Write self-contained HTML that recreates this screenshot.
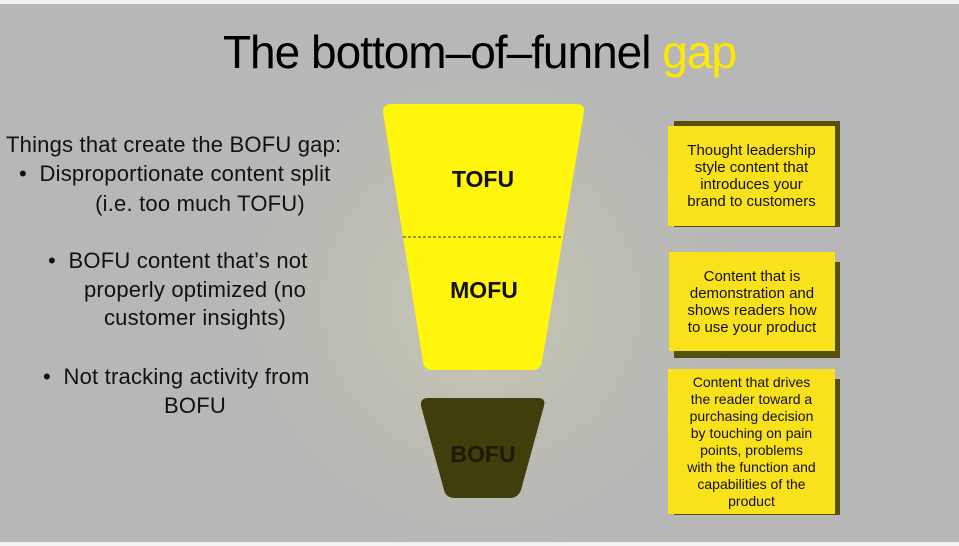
<!DOCTYPE html>
<html><head><meta charset="utf-8"><style>
*{margin:0;padding:0;box-sizing:border-box}
body{width:959px;height:546px;background:#f2f2f2;position:relative;overflow:hidden;font-family:"Liberation Sans",sans-serif}
#bg{position:absolute;left:0;top:4px;width:959px;height:538px;background:radial-gradient(circle at 480px 300px,#c6c6b4 0px,#bdbdb3 120px,#b7b7b7 260px)}
.t{position:absolute;font-size:22px;letter-spacing:0.2px;color:#111;white-space:nowrap;line-height:24px}
.c{text-align:center}
.box{position:absolute;background:#f9e11b;font-size:15px;line-height:17px;text-align:center;color:#111;display:flex;align-items:center;justify-content:center;white-space:nowrap}
.sh{position:absolute;background:#55500c}
</style></head><body>
<div id="bg"></div>
<div style="position:absolute;left:0;top:24px;width:959px;text-align:center;font-size:46px;letter-spacing:-1px;color:#000;line-height:56px">The bottom–of–funnel <span style="color:#ffe800">gap</span></div>

<div class="t" style="left:6px;top:133px">Things that create the BOFU gap:</div>
<div class="t" style="left:19px;top:162px">•&nbsp; Disproportionate content split</div>
<div class="t c" style="left:50px;width:300px;top:192px">(i.e. too much TOFU)</div>
<div class="t" style="left:48px;top:249px">•&nbsp; BOFU content that’s not</div>
<div class="t c" style="left:45px;width:300px;top:278px">properly optimized (no</div>
<div class="t c" style="left:45px;width:300px;top:306px">customer insights)</div>
<div class="t" style="left:43px;top:365px">•&nbsp; Not tracking activity from</div>
<div class="t c" style="left:45px;width:300px;top:394px">BOFU</div>

<svg style="position:absolute;left:0;top:0" width="959" height="546">
<path d="M392 104 L576 104 Q585 104 584 112 L542 362 Q540 370 532 370 L432 370 Q424 370 423 362 L383 112 Q383 104 392 104 Z" fill="#fff60c"/>
<line x1="403" y1="237" x2="562" y2="237" stroke="#333" stroke-width="1" stroke-dasharray="3,2"/>
<path d="M428 398 L538 398 Q546 398 544 406 L521 490 Q518 498 510 498 L455 498 Q446 498 444 490 L421 406 Q420 398 428 398 Z" fill="#403e0c"/>
<text x="483" y="187" text-anchor="middle" font-family="Liberation Sans" font-weight="bold" font-size="23" fill="#111">TOFU</text>
<text x="484" y="298" text-anchor="middle" font-family="Liberation Sans" font-weight="bold" font-size="23" fill="#111">MOFU</text>
<text x="483" y="462" text-anchor="middle" font-family="Liberation Sans" font-weight="bold" font-size="23" fill="#1c1b05">BOFU</text>
</svg>

<div class="sh" style="left:674px;top:121px;width:166px;height:106px"></div>
<div class="box" style="left:668px;top:126px;width:167px;height:100px">Thought leadership<br>style content that<br>introduces your<br>brand to customers</div>
<div class="sh" style="left:674px;top:262px;width:166px;height:96px"></div>
<div class="box" style="left:669px;top:252px;width:166px;height:99px">Content that is<br>demonstration and<br>shows readers how<br>to use your product</div>
<div class="sh" style="left:674px;top:379px;width:166px;height:136px"></div>
<div class="box" style="left:668px;top:369px;width:167px;height:145px;font-size:14px">Content that drives<br>the reader toward a<br>purchasing decision<br>by touching on pain<br>points, problems<br>with the function and<br>capabilities of the<br>product</div>
</body></html>
